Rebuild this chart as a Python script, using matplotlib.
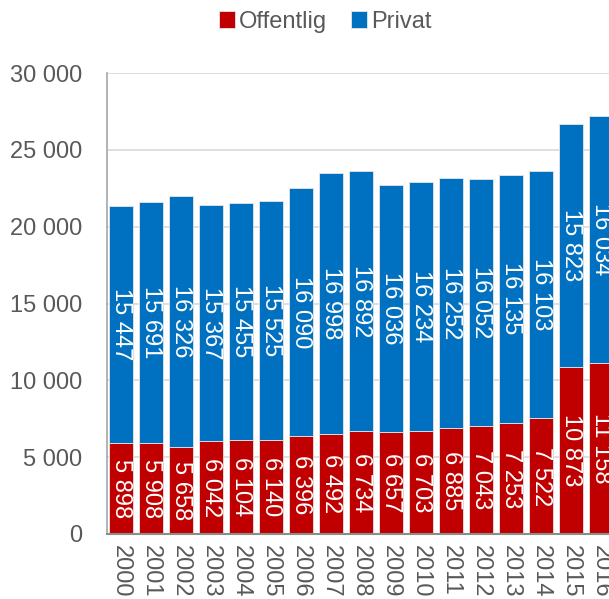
import numpy as np
import matplotlib.pyplot as plt

plt.rcParams['font.family'] = ['Liberation Sans', 'DejaVu Sans']

years = [str(y) for y in range(2000, 2017)]
offentlig = [5898, 5908, 5658, 6042, 6104, 6140, 6396, 6492, 6734, 6657,
             6703, 6885, 7043, 7253, 7522, 10873, 11158]
privat = [15447, 15691, 16326, 15367, 15455, 15525, 16090, 16998, 16892, 16036,
          16234, 16252, 16052, 16135, 16103, 15823, 16034]

red = '#C00000'
blue = '#0070C0'
grey = '#595959'

def fmt(v):
    return '{:,}'.format(v).replace(',', ' ')

fig = plt.figure(figsize=(6.09, 5.99), dpi=100)
ax = fig.add_axes([107/609, 65/599, 1 - 107/609, 461/599])

x = np.arange(len(years))
off = np.array(offentlig)
pri = np.array(privat)
b1 = ax.bar(x, off, 0.8, color=red, edgecolor='#E6E6E6', linewidth=0.6, label='Offentlig', zorder=2)
b2 = ax.bar(x, pri, 0.8, bottom=off, color=blue, edgecolor='#E6E6E6', linewidth=0.6, label='Privat', zorder=2)

for i in range(len(years)):
    ax.text(x[i], off[i] / 2, fmt(offentlig[i]), rotation=-90, ha='center', va='center',
            color='white', fontsize=17, zorder=3, clip_on=True)
    ax.text(x[i], off[i] + pri[i] / 2, fmt(privat[i]), rotation=-90, ha='center', va='center',
            color='white', fontsize=17, zorder=3, clip_on=True)

ax.set_xlim(-0.47, 16.27)
ax.set_ylim(0, 30000)
ax.set_yticks(np.arange(0, 30001, 5000))
ax.set_yticklabels([fmt(v) for v in range(0, 30001, 5000)], fontsize=17, color=grey)
ax.set_xticks(x)
ax.set_xticklabels(years, rotation=-90, fontsize=17, color=grey, va='top', ha='center')
ax.tick_params(axis='both', length=0)
ax.tick_params(axis='x', pad=8)
ax.tick_params(axis='y', pad=18)

ax.grid(axis='y', color='#D9D9D9', linewidth=1.2, zorder=0)
ax.set_axisbelow(True)
for s in ['top', 'right']:
    ax.spines[s].set_visible(False)
ax.spines['left'].set_color('#A6A6A6')
ax.spines['left'].set_linewidth(1.2)
ax.spines['bottom'].set_color('#8C8C8C')
ax.spines['bottom'].set_linewidth(1.5)

fig.legend(handles=[b1, b2], labels=['Offentlig', 'Privat'], loc='center',
           bbox_to_anchor=(325/609, 1 - 22/599), ncol=2, frameon=False, fontsize=17,
           handlelength=0.7, handleheight=0.7, handletextpad=0.15, columnspacing=1.0,
           labelcolor=grey)

fig.savefig('out.png', dpi=100)
